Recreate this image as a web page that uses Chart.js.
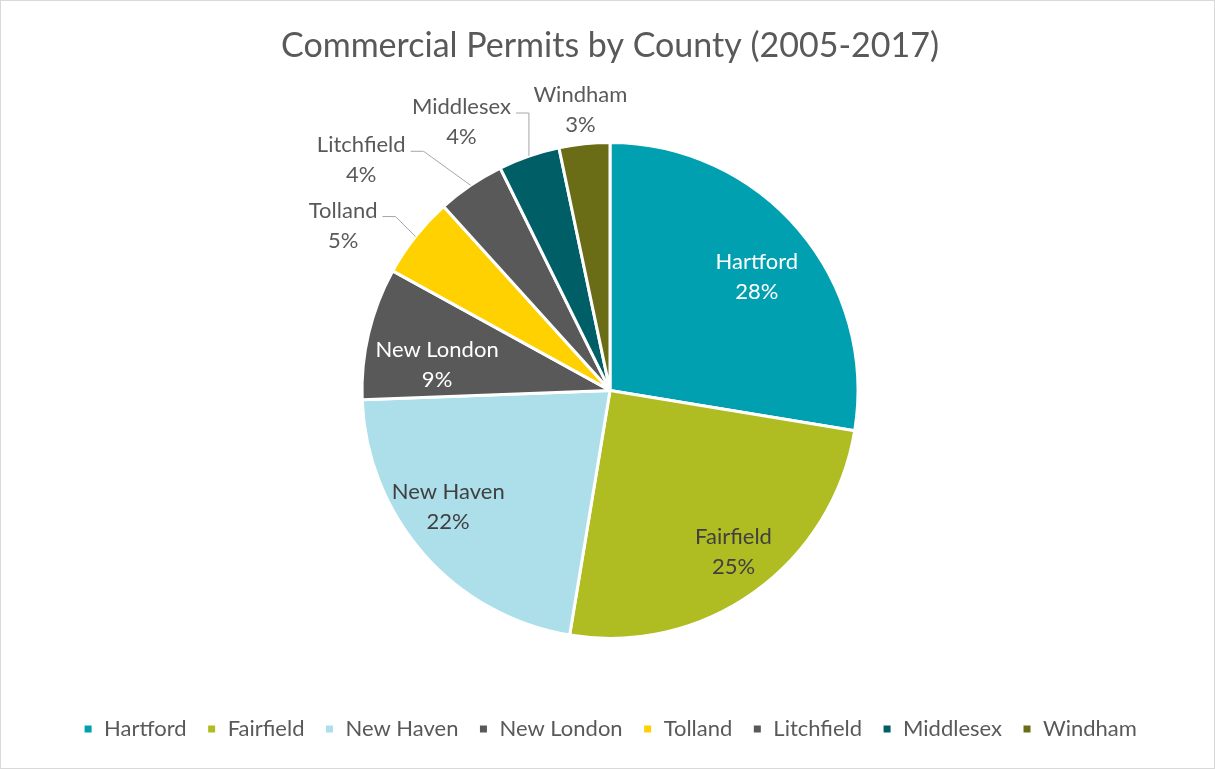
<!DOCTYPE html>
<html>
<head>
<meta charset="utf-8">
<script src="https://cdn.jsdelivr.net/npm/chart.js@4.4.1/dist/chart.umd.min.js"></script>
<style>
    html, body { margin: 0; padding: 0; background: #fff; }
    .frame { width: 1215px; height: 769px; box-sizing: border-box; border: 1px solid #d9d9d9; position: relative; }
</style>
</head>
<body>
<div class="frame"><canvas id="myChart"></canvas></div>
<script>
// Data (share of permits, %)
const counties = ['Hartford', 'Fairfield', 'New Haven', 'New London', 'Tolland', 'Litchfield', 'Middlesex', 'Windham'];
const permitShare = [27.6, 25.0, 21.8, 8.6, 5.3, 4.4, 4.0, 3.3];
const sliceColors = ['#00a0b0', '#afbd22', '#addfeb', '#595959', '#ffd100', '#595959', '#005f66', '#6b6d16'];

// label look: colour and where each label sits relative to its slice
const labelColors = ['#ffffff', '#404040', '#404040', '#ffffff', '#595959', '#595959', '#595959', '#595959'];
const labelPlace = [
    {r: 0.75, dx: 5, dy: 7},
    {r: 0.82, dx: 5, dy: -4},
    {r: 0.80, dx: -13, dy: -15},
    {r: 0.70, dx: -4, dy: 15},
    {outside: true, line: true, dx: -20, dy: -20},
    {outside: true, line: true, dx: -47, dy: -34},
    {outside: true, line: true, dx: 0, dy: -43},
    {outside: true, line: false, dx: -4, dy: -34}
];

const fontFamily = 'Lato, "Open Sans", sans-serif';

// Draws the Excel style data labels from the arc elements
const pieLabels = {
    id: 'pieLabels',
    afterDatasetsDraw(chart) {
        const ctx = chart.ctx;
        const meta = chart.getDatasetMeta(0);
        const values = chart.data.datasets[0].data;
        const total = values.reduce((a, b) => a + b, 0);
        ctx.save();
        ctx.font = '22px ' + fontFamily;
        ctx.textAlign = 'center';
        ctx.textBaseline = 'middle';
        meta.data.forEach((arc, i) => {
            const {x, y, startAngle, endAngle, outerRadius} = arc.getProps(['x', 'y', 'startAngle', 'endAngle', 'outerRadius'], true);
            const mid = (startAngle + endAngle) / 2;
            const place = labelPlace[i];
            const name = chart.data.labels[i];
            const pct = Math.round(values[i] / total * 100) + '%';
            ctx.fillStyle = labelColors[i];
            if (!place.outside) {
                const cx = x + Math.cos(mid) * outerRadius * place.r + place.dx;
                const cy = y + Math.sin(mid) * outerRadius * place.r + place.dy;
                ctx.fillText(name, cx, cy - 15);
                ctx.fillText(pct, cx, cy + 15);
                return;
            }
            const ex = x + Math.cos(mid) * outerRadius;
            const ey = y + Math.sin(mid) * outerRadius;
            const bx = ex + place.dx;
            const by = ey + place.dy;
            if (place.line) {
                ctx.strokeStyle = '#a6a6a6';
                ctx.lineWidth = 1;
                ctx.beginPath();
                ctx.moveTo(ex, ey);
                ctx.lineTo(bx, by);
                ctx.lineTo(bx - 13, by);
                ctx.stroke();
                const w = Math.max(ctx.measureText(name).width, ctx.measureText(pct).width);
                const tx = bx - 18 - w / 2;
                ctx.fillText(name, tx, by - 6);
                ctx.fillText(pct, tx, by + 24);
            } else {
                ctx.fillText(name, bx, by - 15);
                ctx.fillText(pct, bx, by + 15);
            }
        });
        ctx.restore();
    }
};

const config = {
    type: 'pie',
    data: {
        labels: counties,
        datasets: [{
            data: permitShare,
            backgroundColor: sliceColors,
            borderColor: '#ffffff',
            borderWidth: 3,
            radius: 248
        }]
    },
    options: {
        responsive: true,
        maintainAspectRatio: false,
        animation: false,
        layout: {
            padding: {left: 5, right: 0, top: 0, bottom: 18}
        },
        plugins: {
            title: {
                display: true,
                text: 'Commercial Permits by County (2005-2017)',
                color: '#595959',
                font: {family: fontFamily, size: 34, weight: 'normal'},
                padding: {top: 25, bottom: 16}
            },
            legend: {
                position: 'bottom',
                labels: {
                    color: '#595959',
                    font: {family: fontFamily, size: 22},
                    boxWidth: 10,
                    boxHeight: 10,
                    padding: 20
                }
            },
            tooltip: {enabled: false}
        }
    },
    plugins: [pieLabels]
};

const chart = new Chart(document.getElementById('myChart'), config);
</script>
</body>
</html>
